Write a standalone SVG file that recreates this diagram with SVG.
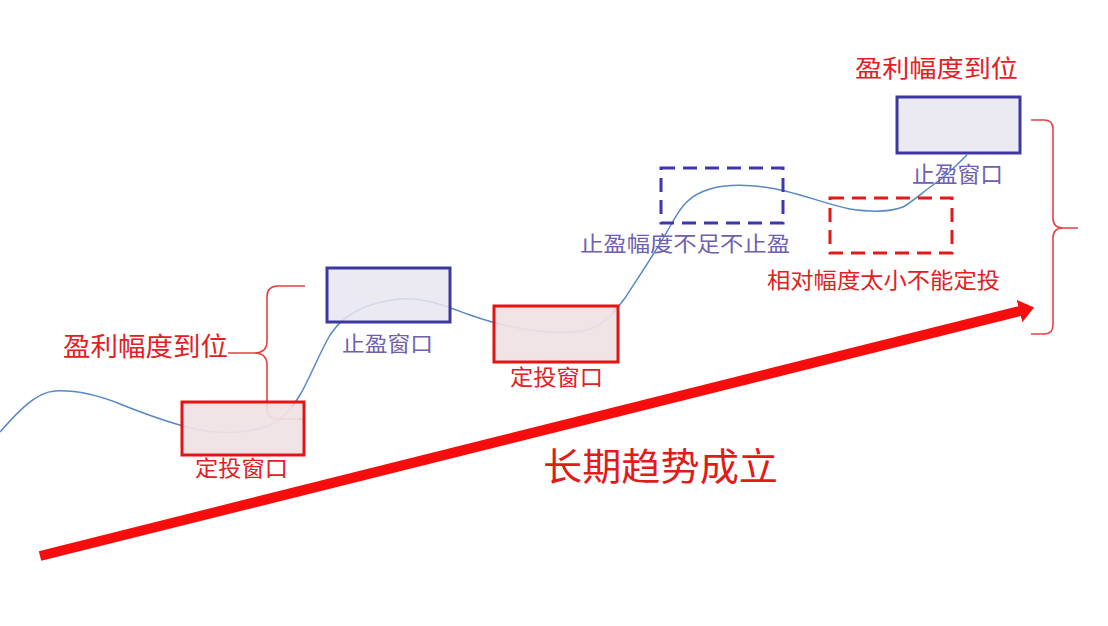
<svg xmlns="http://www.w3.org/2000/svg" width="1108" height="626" viewBox="0 0 1108 626">
<defs>
<style>
text{font-family:"Noto Sans CJK SC","Noto Sans CJK TC",sans-serif;}
.red{fill:#e3201f;}
.purple{fill:#6f5fb0;}
.rbox{fill:#ecdee1;fill-opacity:0.85;stroke:#e31414;stroke-width:3;}
.rinner{fill:#f0e4e6;fill-opacity:0.6;stroke:none;}
.bbox{fill:#e7e5f0;fill-opacity:0.85;stroke:#3d38a0;stroke-width:3;}
.bdash{fill:none;stroke:#3d38b0;stroke-width:3;stroke-dasharray:14 8;}
.rdash{fill:none;stroke:#e31a1a;stroke-width:3;stroke-dasharray:14 8;}
.brace{fill:none;stroke:#e84040;stroke-width:1.6;}
.curve{fill:none;stroke:#5588c4;stroke-width:1.5;}
</style>
<marker id="head" markerUnits="userSpaceOnUse" viewBox="0 0 15 23" refX="0.5" refY="11.5" markerWidth="15" markerHeight="23" orient="auto">
<path d="M0,0 L15,11.5 L0,23 z" fill="#f70d0d"/>
</marker>
</defs>
<rect width="1108" height="626" fill="#ffffff"/>

<g id="connectors">
<path id="trend-curve" class="curve" d="M0,432 C15,415 35,392 55,391 C75,390 95,394 120,404 C150,416 175,425 200,430 C225,435 255,432 270,425 C285,418 292,408 300,395 C310,378 318,356 330,335 C345,312 370,302 400,299 C425,297 445,306 470,315 C490,322 510,328 537,331 C560,334 585,333 597,326 C610,318 615,311 625,298 C640,275 660,245 672,223 C682,205 690,195 710,189 C730,183 760,185 785,191 C810,197 830,205 850,209 C870,212 890,212 903,207 C915,200 925,190 940,180 C952,170 960,162 967,155"/>
<path id="brace-left" class="brace" d="M305,286 H278 Q267,286 267,297 V341 Q267,353 254,353 H228 M254,353 Q267,353 267,365 V409 Q267,419 278,419 H304"/>
<path id="brace-right" class="brace" d="M1031,120 H1044 Q1053,120 1053,129 V218 Q1053,228 1063,228 H1078 M1063,228 Q1053,228 1053,238 V325 Q1053,334 1044,334 H1031"/>
<line id="trend-arrow" x1="40" y1="556" x2="1020" y2="311" stroke="#f70d0d" stroke-width="10" marker-end="url(#head)"/>
</g>

<g id="buy-window-1">
<rect class="rbox" x="182" y="402" width="122" height="53"/>
<rect class="rinner" x="187" y="407" width="112" height="43"/>
<text class="red" x="195" y="476" font-size="22" textLength="93" lengthAdjust="spacingAndGlyphs">定投窗口</text>
</g>

<g id="sell-window-1">
<rect class="bbox" x="327" y="268" width="123" height="54"/>
<text class="purple" x="342" y="351" font-size="21" textLength="91" lengthAdjust="spacingAndGlyphs">止盈窗口</text>
</g>

<g id="buy-window-2">
<rect class="rbox" x="494" y="306" width="124" height="56"/>
<rect class="rinner" x="499" y="311" width="114" height="46"/>
<text class="red" x="510" y="385" font-size="22" textLength="93" lengthAdjust="spacingAndGlyphs">定投窗口</text>
</g>

<g id="no-sell-window">
<rect class="bdash" x="661" y="168" width="122" height="55"/>
<text class="purple" x="580" y="251" font-size="21" textLength="210" lengthAdjust="spacingAndGlyphs">止盈幅度不足不止盈</text>
</g>

<g id="no-buy-window">
<rect class="rdash" x="830" y="198" width="122" height="55"/>
<text class="red" x="767" y="288" font-size="22" textLength="233" lengthAdjust="spacingAndGlyphs">相对幅度太小不能定投</text>
</g>

<g id="sell-window-2">
<rect class="bbox" x="897" y="97" width="123" height="56"/>
<text class="purple" x="912" y="182" font-size="22" textLength="91" lengthAdjust="spacingAndGlyphs">止盈窗口</text>
</g>

<g id="label-profit-left">
<text class="red" x="63" y="356" font-size="26" textLength="165" lengthAdjust="spacingAndGlyphs">盈利幅度到位</text>
</g>

<g id="label-profit-top">
<text class="red" x="855" y="77" font-size="24" textLength="163" lengthAdjust="spacingAndGlyphs">盈利幅度到位</text>
</g>

<g id="label-trend">
<text x="543" y="480" font-size="38" fill="#e31a1a" textLength="235" lengthAdjust="spacingAndGlyphs">长期趋势成立</text>
</g>
</svg>
